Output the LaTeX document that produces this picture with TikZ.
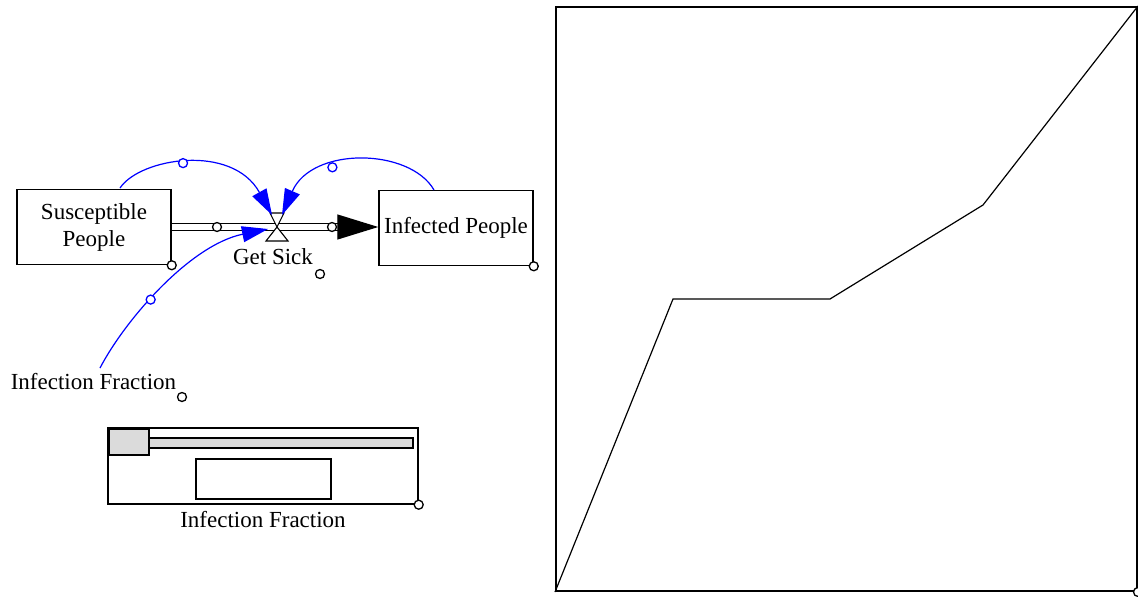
\documentclass[tikz,border=0pt]{standalone}
\usepackage{fontspec}
\setmainfont{Liberation Serif}
\usetikzlibrary{arrows.meta}
\begin{document}
\begin{tikzpicture}[x=1pt,y=-1pt,
  every node/.style={font=\fontsize{23}{27}\selectfont},
  stock/.style={draw, line width=1.5pt, minimum width=154pt, minimum height=75pt, inner sep=0pt, align=center},
  hole/.style={circle, draw, fill=white, inner sep=0pt, minimum size=9pt, line width=1.3pt},
  bhole/.style={hole, draw=blue},
  link/.style={draw=blue, line width=1.2pt, -{Triangle[length=26pt,width=16pt]}},
  pipe/.style={line width=1.3pt, double, double distance=6pt},
  flowtip/.style={line width=1.3pt, -{Triangle[length=41pt,width=25pt]}},
  valvepart/.style={draw, fill=white, line width=1.1pt},
  ctrl/.style={draw, line width=1.4pt},
  knob/.style={draw, fill=gray!28, line width=1.4pt},
]
\useasboundingbox (0,0) rectangle (1138,597);

% stocks
\node[stock] (S) at (94,227) {Susceptible\\People};
\node[hole] (Sh) at (S.south east) {};
\node[stock] (I) at (456,228) {Infected People};
\node[hole] (Ih) at (I.south east) {};

% flow pipe with valve
\coordinate (V) at (277,227);
\coordinate (P) at (338,227);
\draw[pipe] (S.east) -- (P);
\draw[flowtip] (P) -- (I.west |- P);
\node[hole] (p1) at (217,227) {};
\node[hole] (p2) at (332,227) {};
\draw[valvepart] ([shift={(-7,-14)}]V) -- ([shift={(7,-14)}]V) -- (V) -- cycle;
\draw[valvepart] (V) -- ([shift={(11,14)}]V) -- ([shift={(-11,14)}]V) -- cycle;
\node (GS) at (273,257) {Get Sick};
\node[hole] (GSh) at (320,274) {};

% auxiliary
\node (IF) at (93.5,382) {Infection Fraction};
\node[hole] (IFh) at (182,397) {};

% information links
\coordinate (a1) at (120,188);
\coordinate (t1) at (272,215);
\coordinate (a2) at (434,190);
\coordinate (t2) at (282,215);
\coordinate (a3) at (100,368);
\coordinate (t3) at (268,229);
\draw[link] (a1) .. controls (140,158) and (232,143) .. (t1) node[bhole, pos=0.47] (l1) {};
\draw[link] (a2) .. controls (410,148) and (312,146) .. (t2) node[bhole, pos=0.65] (l2) {};
\draw[link] (a3) .. controls (125,320) and (190,245) .. (t3) node[bhole, pos=0.42] (l3) {};

% slider control
\node[ctrl, minimum width=310pt, minimum height=76pt, inner sep=0pt] (SL) at (263,466) {};
\node[hole] (SLh) at (SL.south east) {};
\draw[knob] (149,438) rectangle (413,448);
\draw[knob] (109,429) rectangle (149,455);
\node[ctrl, minimum width=135pt, minimum height=40pt, inner sep=0pt] (SV) at (263.5,479) {};
\node (SLt) at (263,520) {Infection Fraction};

% graph panel
\node[draw, line width=2pt, minimum width=581pt, minimum height=584pt, inner sep=0pt] (G) at (846.5,299) {};
\draw[line width=1.2pt] (G.south west) -- (673,299) -- (830,299) -- (983,205) -- (G.north east);
\node[hole] (Gh) at (G.south east) {};
\end{tikzpicture}
\end{document}
